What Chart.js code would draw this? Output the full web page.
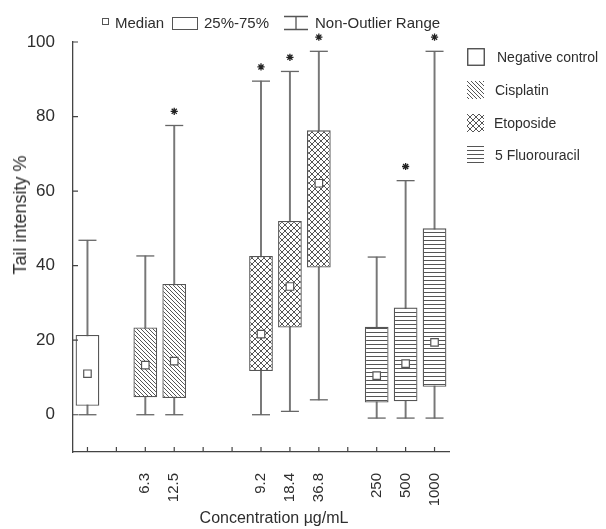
<!DOCTYPE html>
<html><head><meta charset="utf-8">
<script src="https://cdn.jsdelivr.net/npm/chart.js@4.4.1/dist/chart.umd.min.js"></script>
<style>
body{margin:0;background:#fff;}
#wrap{position:relative;width:606px;height:529px;font-family:"Liberation Sans",Arial,sans-serif;color:#2e2e2e;overflow:hidden;}
#c{position:absolute;left:0;top:0;}
.t{position:absolute;white-space:nowrap;line-height:1;}
.sw{position:absolute;}
</style></head><body>
<div id="wrap">
<canvas id="c" width="606" height="529"></canvas>
<!-- top legend -->
<div style="position:absolute;left:102px;top:18px;width:5px;height:5px;border:1px solid #555"></div>
<div class="t" style="left:115px;top:15px;font-size:15px">Median</div>
<div style="position:absolute;left:172px;top:17px;width:24px;height:11px;border:1.3px solid #555"></div>
<div class="t" style="left:204px;top:15px;font-size:15px">25%-75%</div>
<svg style="position:absolute;left:283px;top:15px" width="26" height="16"><path d="M1 1.5H25M13 1.5V14.5M1 14.5H25" stroke="#555" stroke-width="1.3" fill="none"/></svg>
<div class="t" style="left:315px;top:15px;font-size:15px">Non-Outlier Range</div>
<!-- right legend -->
<canvas class="sw" id="sw0" width="18" height="18" style="left:467px;top:48px"></canvas>
<div class="t" style="left:497px;top:50px;font-size:14px">Negative control</div>
<canvas class="sw" id="sw1" width="17" height="18" style="left:467px;top:81px"></canvas>
<div class="t" style="left:495px;top:83px;font-size:14px">Cisplatin</div>
<canvas class="sw" id="sw2" width="17" height="18" style="left:467px;top:114px"></canvas>
<div class="t" style="left:494px;top:116px;font-size:14px">Etoposide</div>
<canvas class="sw" id="sw3" width="17" height="18" style="left:467px;top:146px"></canvas>
<div class="t" style="left:495px;top:148px;font-size:14px">5 Fluorouracil</div>
<!-- axis titles -->
<div class="t" style="left:20px;top:215px;font-size:18px;transform:translate(-50%,-50%) rotate(-90deg)">Tail intensity %</div>
<div class="t" style="left:274px;top:518px;font-size:16px;transform:translate(-50%,-50%)">Concentration µg/mL</div>
</div>
<script>
// ---- data ----
const categories = ['', '', '6.3', '12.5', '', '', '9.2', '18.4', '36.8', '', '250', '500', '1000'];
const groups = ['Negative control', 'Cisplatin', 'Etoposide', '5 Fluorouracil'];
const groupOf = [0, null, 1, 1, null, null, 2, 2, 2, null, 3, 3, 3];
const minV = [0, null, 0, 0, null, null, 0, 0.9, 4, null, -0.9, -0.9, -0.9];
const q1V  = [2.4, null, 4.7, 4.5, null, null, 11.7, 23.4, 39.5, null, 3.3, 3.6, 7.5];
const medV = [11, null, 13.3, 14.4, null, null, 21.6, 34.4, 62.1, null, 10.5, 13.7, 19.4];
const q3V  = [21.4, null, 23.4, 35.1, null, null, 42.6, 52, 76.3, null, 23.6, 28.8, 50];
const maxV = [46.8, null, 42.6, 77.6, null, null, 89.5, 92.1, 97.5, null, 42.3, 62.8, 97.5];
const signif = [false, false, false, true, false, false, true, true, true, false, false, true, true];
const yTicks = [0, 20, 40, 60, 80, 100];

// ---- patterns ----
function makeTile(kind) {
  const c = document.createElement('canvas');
  const s = kind === 'cross' ? 6 : 4;
  c.width = s; c.height = s;
  const g = c.getContext('2d');
  g.fillStyle = '#fff'; g.fillRect(0, 0, s, s);
  g.strokeStyle = '#555'; g.fillStyle = '#555'; g.lineWidth = 1;
  if (kind === 'diag') {
    g.beginPath();
    g.moveTo(-1, -1); g.lineTo(s + 1, s + 1);
    g.moveTo(-1, s - 1); g.lineTo(1, s + 1);
    g.moveTo(s - 1, -1); g.lineTo(s + 1, 1);
    g.stroke();
  } else if (kind === 'cross') {
    g.beginPath();
    g.moveTo(-1, -1); g.lineTo(s + 1, s + 1);
    g.moveTo(-1, s + 1); g.lineTo(s + 1, -1);
    g.stroke();
  } else if (kind === 'horiz') {
    g.fillRect(0, 0, s, 1);
  }
  return c;
}
const tiles = [null, makeTile('diag'), makeTile('cross'), makeTile('horiz')];
const ctxMain = document.getElementById('c').getContext('2d');
const fills = tiles.map(t => t ? ctxMain.createPattern(t, 'repeat') : '#ffffff');

// legend swatches
for (let g = 0; g < 4; g++) {
  const sw = document.getElementById('sw' + g);
  const x = sw.getContext('2d');
  if (g === 0) {
    x.fillStyle = '#fff'; x.fillRect(0, 0, sw.width, sw.height);
    x.strokeStyle = '#444'; x.lineWidth = 1.3; x.strokeRect(0.75, 0.75, sw.width - 1.5, sw.height - 1.5);
  } else {
    x.fillStyle = x.createPattern(tiles[g], 'repeat'); x.fillRect(0, 0, sw.width, sw.height);
  }
}

// ---- datasets ----
const boxSets = groups.map((name, g) => ({
  type: 'bar', label: name,
  data: categories.map((_, i) => groupOf[i] === g ? [q1V[i], q3V[i]] : null),
  backgroundColor: fills[g], borderColor: '#555', borderWidth: 1.3, borderSkipped: false,
  grouped: false, barPercentage: 0.82, categoryPercentage: 1, order: 5
}));
const whiskers = {
  type: 'bar', label: 'range',
  data: categories.map((_, i) => minV[i] === null ? null : [minV[i], maxV[i]]),
  backgroundColor: '#777', borderWidth: 0, barThickness: 1.3, grouped: false, order: 10
};
const capStyle = { type: 'line', showLine: false, pointStyle: 'line', pointRadius: 9, borderColor: '#666', borderWidth: 1.3, order: 2, clip: false };
const capsMax = Object.assign({ label: 'max', data: maxV }, capStyle);
const capsMin = Object.assign({ label: 'min', data: minV }, capStyle);
const medians = { type: 'line', label: 'Median', data: medV, showLine: false, pointStyle: 'rect', pointRadius: 5.3,
  backgroundColor: '#fff', borderColor: '#555', borderWidth: 1.2, order: 1 };
const starGap = 3.8;
const stars = { type: 'line', label: 'sig', data: maxV.map((v, i) => signif[i] ? v + starGap : null), showLine: false,
  pointStyle: 'star', pointRadius: 3.6, borderColor: '#222', borderWidth: 1.3, order: 0, clip: false };

const inTicks = {
  id: 'inTicks',
  afterDraw(chart) {
    const { ctx, scales: { x, y }, chartArea: a } = chart;
    ctx.save(); ctx.strokeStyle = '#444'; ctx.lineWidth = 1.2; ctx.beginPath();
    yTicks.forEach(v => { const p = y.getPixelForValue(v); ctx.moveTo(a.left, p); ctx.lineTo(a.left + 5, p); });
    x.ticks.forEach((t, i) => { const p = x.getPixelForTick(i); ctx.moveTo(p, a.bottom); ctx.lineTo(p, a.bottom - 5); });
    ctx.stroke(); ctx.restore();
  }
};

new Chart(ctxMain, {
  data: { labels: categories, datasets: [whiskers, ...boxSets, capsMax, capsMin, medians, stars] },
  options: {
    responsive: false, animation: false, events: [],
    layout: { padding: { top: 42, right: 157, bottom: 0, left: 0 } },
    plugins: { legend: { display: false }, tooltip: { enabled: false } },
    scales: {
      x: {
        type: 'category', offset: true,
        grid: { display: false },
        border: { display: true, color: '#444', width: 1.3 },
        ticks: { autoSkip: false, minRotation: 90, maxRotation: 90, padding: 13, color: '#2e2e2e',
          font: { family: '"Liberation Sans", Arial, sans-serif', size: 15 } },
        afterFit(s) { s.height = 77; }
      },
      y: {
        min: -10, max: 100,
        grid: { display: false },
        border: { display: true, color: '#444', width: 1.3 },
        afterBuildTicks(s) { s.ticks = yTicks.map(v => ({ value: v })); },
        ticks: { padding: 10, color: '#2e2e2e', font: { family: '"Liberation Sans", Arial, sans-serif', size: 17 } },
        afterFit(s) { s.width = 73; }
      }
    }
  },
  plugins: [inTicks]
});
</script>
</body></html>
